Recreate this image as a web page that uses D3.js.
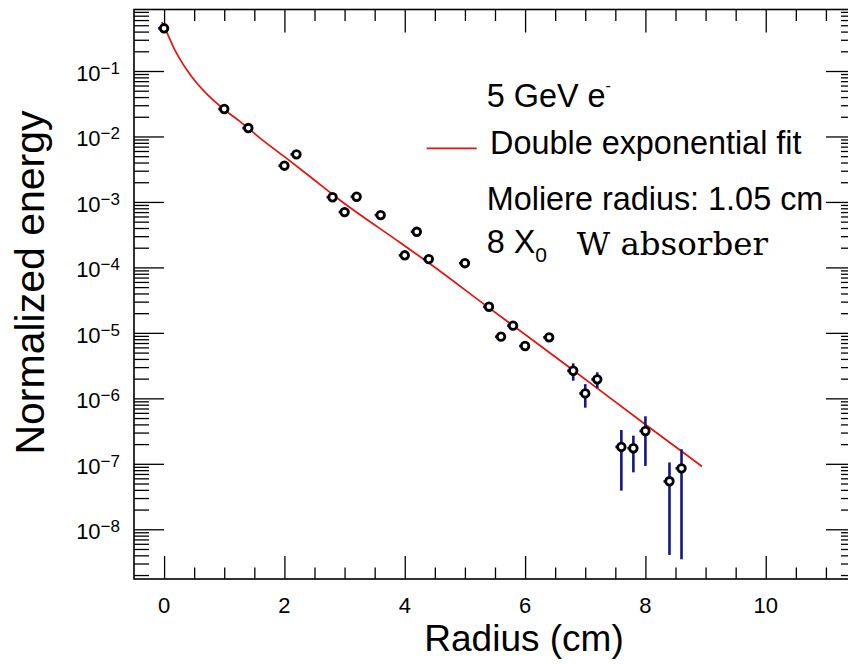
<!DOCTYPE html>
<html><head><meta charset="utf-8">
<script src="https://cdn.jsdelivr.net/npm/d3@7"></script>
<style>
body{margin:0;background:#fff}
svg{display:block}
text{font-family:"Liberation Sans",Arial,Helvetica,sans-serif;fill:#000}
</style>
</head><body>
<svg id="c" width="848" height="664"></svg>
<script>
// ---- data ----
const radius     = [0, 1.0, 1.4, 2.0, 2.2, 2.8, 3.0, 3.2, 3.6, 4.0, 4.2, 4.4, 5.0, 5.4, 5.6, 5.8, 6.0, 6.4, 6.8, 7.0, 7.2, 7.6, 7.8, 8.0, 8.4, 8.6];
const energy     = [0.449, 0.0263, 0.01346, 0.00358, 0.00533, 0.00118, 7.0e-4, 0.0012, 6.3e-4, 1.53e-4, 3.5e-4, 1.34e-4, 1.16e-4, 2.51e-5, 8.75e-6, 1.29e-5, 6.3e-6, 8.55e-6, 2.64e-6, 1.19e-6, 1.95e-6, 1.81e-7, 1.73e-7, 3.17e-7, 5.41e-8, 8.53e-8];
const energyLow  = [0.449, 0.0263, 0.01346, 0.00358, 0.00533, 0.00118, 7.0e-4, 0.0012, 6.3e-4, 1.53e-4, 3.5e-4, 1.34e-4, 1.16e-4, 2.3e-5, 8.0e-6, 1.15e-5, 5.8e-6, 7.8e-6, 1.86e-6, 7.2e-7, 1.43e-6, 3.89e-8, 7.41e-8, 9.27e-8, 4.05e-9, 3.48e-9];
const energyHigh = [0.449, 0.0263, 0.01346, 0.00358, 0.00533, 0.00118, 7.0e-4, 0.0012, 6.3e-4, 1.53e-4, 3.5e-4, 1.34e-4, 1.16e-4, 2.75e-5, 9.5e-6, 1.45e-5, 6.8e-6, 9.3e-6, 3.43e-6, 1.65e-6, 2.5e-6, 3.29e-7, 2.69e-7, 5.32e-7, 1.05e-7, 1.67e-7];
const radiusErrLow = 0.1;

const fitRadius = [-0.04, 0, 0.18, 0.46, 0.73, 1.0, 1.26, 1.6, 2.0, 2.37, 2.92, 3.92, 4.47, 5.39, 5.8, 6.8, 8.0, 8.59, 8.94];
const fitEnergy = [0.56, 0.475, 0.209, 0.0818, 0.0427, 0.0257, 0.0170, 0.00938, 0.00491, 0.00267, 0.00107, 2.40e-4, 1.05e-4, 2.45e-5, 1.29e-5, 2.69e-6, 3.98e-7, 1.58e-7, 9.1e-8];

const xMajorTicks = [0, 2, 4, 6, 8, 10];
const xTickLabels = ["0", "2", "4", "6", "8", "10"];
const xMinorTicks = [0.5, 1, 1.5, 2.5, 3, 3.5, 4.5, 5, 5.5, 6.5, 7, 7.5, 8.5, 9, 9.5, 10.5, 11];
const yDecadeExps = [-1, -2, -3, -4, -5, -6, -7, -8];
const yTickLabels = ["\u22121", "\u22122", "\u22123", "\u22124", "\u22125", "\u22126", "\u22127", "\u22128"];
const yMinorMult  = [2, 3, 4, 5, 6, 7, 8, 9];

const legendLines = ["5 GeV e", "Double exponential fit", "Moliere radius: 1.05 cm"];

// ---- layout ----
const L = 134, T = 9.5, R = 856, B = 579;
const svg = d3.select("#c");
const x = d3.scaleLinear().domain([-0.5, 11.5]).range([L, R]);
const y = d3.scaleLog().domain([1.74e-9, 0.87]).range([B, T]);

const yMajor = yDecadeExps.map(e => Math.pow(10, e));
const yMinor = [];
[0, -1, -2, -3, -4, -5, -6, -7, -8, -9].forEach(e => yMinorMult.forEach(m => {
  const v = m * Math.pow(10, e);
  if (v > y.domain()[0] && v < y.domain()[1]) yMinor.push(v);
}));

function styleAxis(g) {
  g.select(".domain").remove();
  g.selectAll("text").remove();
  g.selectAll("line").attr("stroke", "#000").attr("stroke-width", 1.3);
}
svg.append("g").attr("transform", `translate(0,${B})`).call(d3.axisBottom(x).tickValues(xMajorTicks).tickSize(-23)).call(styleAxis);
svg.append("g").attr("transform", `translate(0,${B})`).call(d3.axisBottom(x).tickValues(xMinorTicks).tickSize(-11.5)).call(styleAxis);
svg.append("g").attr("transform", `translate(0,${T})`).call(d3.axisTop(x).tickValues(xMajorTicks).tickSize(-23)).call(styleAxis);
svg.append("g").attr("transform", `translate(0,${T})`).call(d3.axisTop(x).tickValues(xMinorTicks).tickSize(-11.5)).call(styleAxis);
svg.append("g").attr("transform", `translate(${L},0)`).call(d3.axisLeft(y).tickValues(yMajor).tickSize(-30)).call(styleAxis);
svg.append("g").attr("transform", `translate(${L},0)`).call(d3.axisLeft(y).tickValues(yMinor).tickSize(-15)).call(styleAxis);
svg.append("g").attr("transform", `translate(${R},0)`).call(d3.axisRight(y).tickValues(yMajor).tickSize(-30)).call(styleAxis);
svg.append("g").attr("transform", `translate(${R},0)`).call(d3.axisRight(y).tickValues(yMinor).tickSize(-15)).call(styleAxis);

svg.append("rect").attr("x", L).attr("y", T).attr("width", R - L).attr("height", B - T)
  .attr("fill", "none").attr("stroke", "#000").attr("stroke-width", 1.6);

svg.append("g").selectAll("text").data(xMajorTicks).join("text")
  .attr("x", d => x(d)).attr("y", 613).attr("text-anchor", "middle")
  .attr("font-size", 22).text((d, i) => xTickLabels[i]);

const yl = svg.append("g").selectAll("text").data(yMajor).join("text")
  .attr("x", 120).attr("y", d => y(d) + 10).attr("text-anchor", "end").attr("font-size", 22);
yl.append("tspan").text("10");
yl.append("tspan").attr("dy", -7).attr("font-size", 17).text((d, i) => yTickLabels[i]);

svg.append("text").attr("x", 524).attr("y", 651).attr("text-anchor", "middle")
  .attr("font-size", 37).text("Radius (cm)");
svg.append("text").attr("transform", "translate(44,282.5) rotate(-90)").attr("text-anchor", "middle")
  .attr("font-size", 41).text("Normalized energy");

const fitData = fitRadius.map((r, i) => [r, fitEnergy[i]]);
svg.append("path").datum(fitData)
  .attr("d", d3.line().x(d => x(d[0])).y(d => y(d[1])).curve(d3.curveMonotoneX))
  .attr("fill", "none").attr("stroke", "#e3130f").attr("stroke-width", 1.7);

const pts = radius.map((r, i) => ({r, v: energy[i], lo: energyLow[i], hi: energyHigh[i]}));
const eb = svg.append("g").attr("stroke", "#15158a").attr("stroke-width", 2.6);
eb.selectAll("line.v").data(pts).join("line").attr("class", "v")
  .attr("x1", d => x(d.r)).attr("x2", d => x(d.r))
  .attr("y1", d => y(d.lo)).attr("y2", d => y(d.hi));
eb.selectAll("line.h").data(pts).join("line").attr("class", "h")
  .attr("x1", d => x(d.r - radiusErrLow)).attr("x2", d => x(d.r))
  .attr("y1", d => y(d.v)).attr("y2", d => y(d.v));

svg.append("g").selectAll("circle").data(pts).join("circle")
  .attr("cx", d => x(d.r)).attr("cy", d => y(d.v)).attr("r", 3.8)
  .attr("fill", "#fff").attr("stroke", "#000").attr("stroke-width", 2.8);

const lg = svg.append("g").attr("font-size", 32.4);
const t0 = lg.append("text").attr("x", 486.7).attr("y", 106.7);
t0.append("tspan").text(legendLines[0]);
t0.append("tspan").attr("dy", -16).attr("font-size", 16).text("-");
lg.append("line").attr("x1", 426.7).attr("x2", 476.7).attr("y1", 148.3).attr("y2", 148.3)
  .attr("stroke", "#e3130f").attr("stroke-width", 1.7);
lg.append("text").attr("x", 490).attr("y", 154).text(legendLines[1]);
lg.append("text").attr("x", 486.7).attr("y", 210).text(legendLines[2]);
const t3 = lg.append("text").attr("x", 486.7).attr("y", 253.3);
t3.append("tspan").text("8 X");
t3.append("tspan").attr("dy", 9).attr("font-size", 21).text("0");
lg.append("text").attr("x", 576.7).attr("y", 255).attr("font-size", 32.5)
  .style("font-family", "'DejaVu Serif',serif").text("W absorber");
</script>
</body></html>
